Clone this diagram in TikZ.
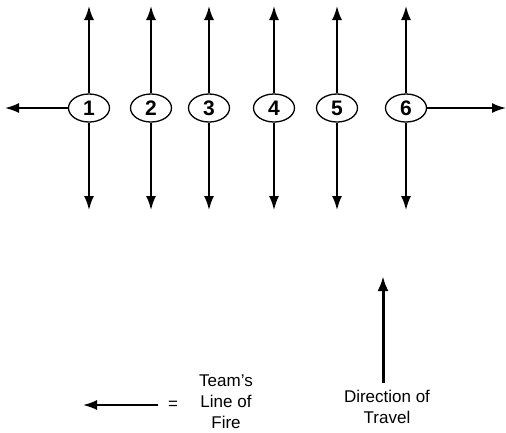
\documentclass[tikz,border=0pt]{standalone}
\usepackage{fontspec}
\setmainfont{Liberation Sans}
\usetikzlibrary{arrows.meta,shapes.geometric}
\begin{document}
\begin{tikzpicture}[x=1pt,y=-1pt,
  team/.style={draw,ellipse,line width=1.3pt,minimum width=41pt,minimum height=28pt,
    inner sep=0pt,font=\fontsize{21}{21}\selectfont\bfseries},
  fire/.style={line width=1.8pt,-{Latex[length=14pt,width=10pt]}},
  travel/.style={line width=3pt,-{Latex[length=15pt,width=11pt]}},
  legend/.style={font=\fontsize{17}{21}\selectfont,align=center}]
\useasboundingbox (0,0) rectangle (506,432);

% the six teams
\foreach \i/\x in {1/89,2/151,3/209,4/274,5/337,6/406}{
  \node[team] (t\i) at (\x,108) {\i};
  \coordinate (up\i) at (\x,6);
  \coordinate (dn\i) at (\x,210);
  \draw[fire] (t\i.north) -- (up\i);
  \draw[fire] (t\i.south) -- (dn\i);
}
\coordinate (left) at (5,108);
\coordinate (right) at (506,108);
\draw[fire] (t1.west) -- (left);
\draw[fire] (t6.east) -- (right);

% legend: line of fire
\coordinate (ls) at (158,405);
\coordinate (le) at (83,405);
\draw[fire] (ls) -- (le);
\node[legend] (eq) at (173,405) {=};
\node[legend] (lof) at (226,402) {Team’s\\Line of\\Fire};

% direction of travel
\node[legend] (dot) at (387,407) {Direction of\\Travel};
\coordinate (ts) at (383,383);
\coordinate (te) at (383,276);
\draw[travel] (ts) -- (te);
\end{tikzpicture}
\end{document}
